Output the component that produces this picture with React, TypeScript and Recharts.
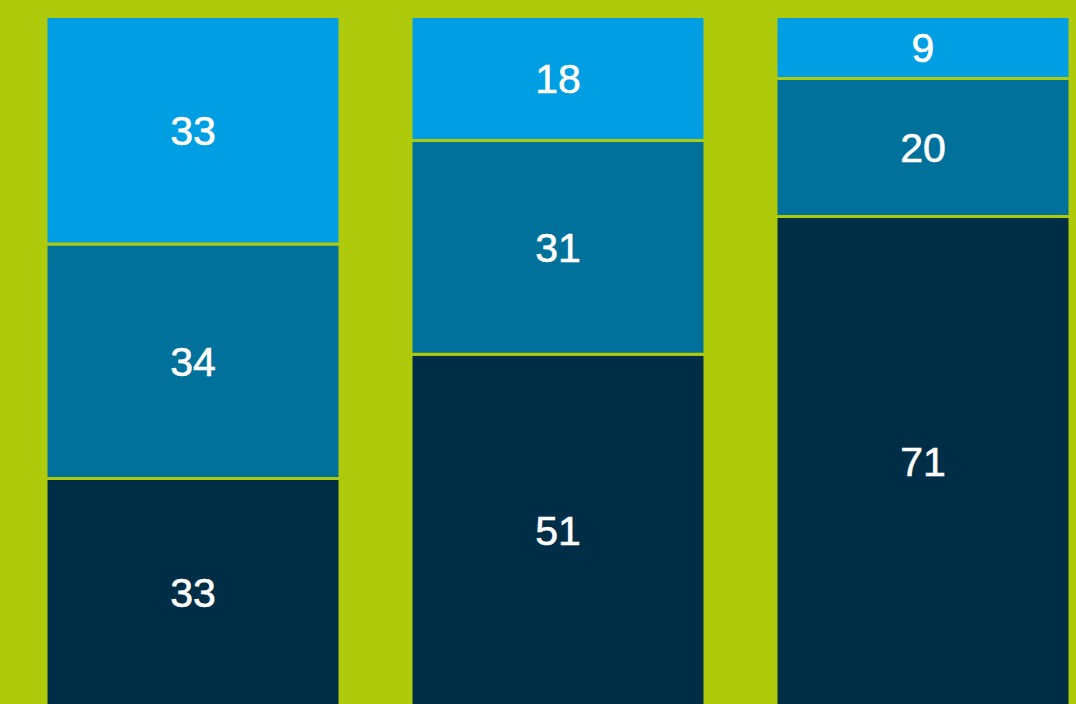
import React from "react";
import { BarChart, Bar, XAxis, YAxis, LabelList } from "recharts";

const categories = ["A", "B", "C"];
const bottomValues = [33, 51, 71];
const middleValues = [34, 31, 20];
const topValues = [33, 18, 9];

const LIME = "#afca0b";
const COLORS = { bottom: "#002e46", middle: "#00719b", top: "#009fe3" };

export default function App() {
  const data = categories.map((name, i) => ({
    name,
    bottom: bottomValues[i],
    middle: middleValues[i],
    top: topValues[i],
  }));

  const label = {
    fill: "#ffffff",
    stroke: "#ffffff",
    strokeWidth: 0.6,
    fontSize: 41,
    fontFamily: "'Liberation Sans', Arial, Helvetica, sans-serif",
  };

  return (
    <div
      style={{
        position: "fixed",
        left: 0,
        top: 0,
        width: 1076,
        height: 704,
        overflow: "hidden",
        background: LIME,
      }}
    >
      <BarChart
        width={1105}
        height={706}
        data={data}
        barSize={294}
        margin={{ top: 16.5, right: 0, bottom: 0, left: 10 }}
      >
        <XAxis dataKey="name" hide />
        <YAxis type="number" domain={[0, 100]} hide />
        <Bar dataKey="bottom" stackId="s" fill={COLORS.bottom} stroke={LIME} strokeWidth={3} isAnimationActive={false}>
          <LabelList dataKey="bottom" position="center" {...label} />
        </Bar>
        <Bar dataKey="middle" stackId="s" fill={COLORS.middle} stroke={LIME} strokeWidth={3} isAnimationActive={false}>
          <LabelList dataKey="middle" position="center" {...label} />
        </Bar>
        <Bar dataKey="top" stackId="s" fill={COLORS.top} stroke={LIME} strokeWidth={3} isAnimationActive={false}>
          <LabelList dataKey="top" position="center" {...label} />
        </Bar>
      </BarChart>
    </div>
  );
}
